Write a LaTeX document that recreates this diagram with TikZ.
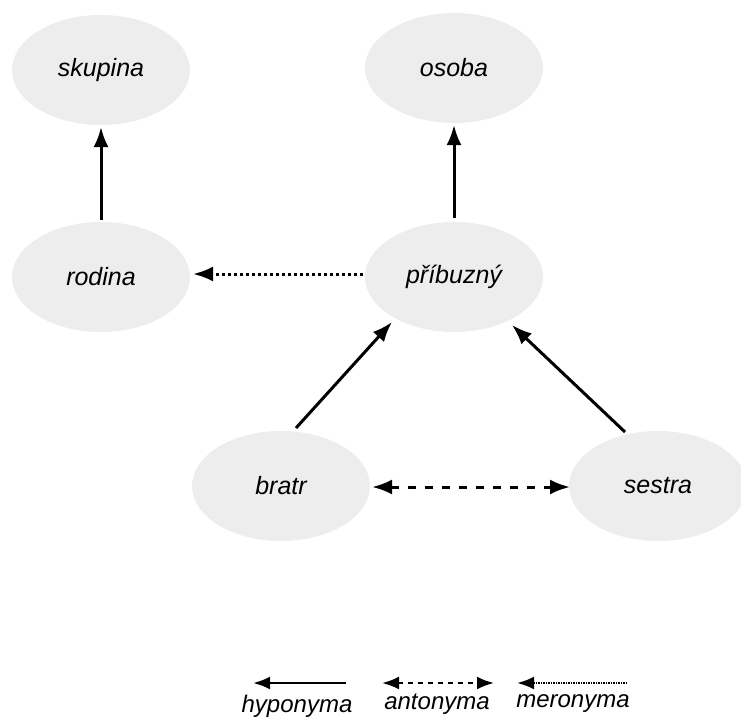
\documentclass[tikz,border=0pt]{standalone}
\usepackage{fontspec}
\setmainfont{Liberation Sans}
\usetikzlibrary{arrows.meta,shapes.geometric}
\tikzset{
  x=1pt,y=-1pt,
  concept/.style={ellipse,fill=black!7,draw=none,minimum width=178pt,minimum height=110pt,inner sep=0pt,font=\fontsize{25}{30}\selectfont\itshape},
  tip/.style={-{Latex[length=20pt,width=15pt]}},
  hypo/.style={tip,line width=3pt},
  mero/.style={tip,line width=3pt,dash pattern=on 3pt off 3pt},
  anto/.style={{Latex[length=20pt,width=15pt]}-{Latex[length=20pt,width=15pt]},line width=3pt,dash pattern=on 8pt off 9pt},
  smalltip/.style={-{Latex[length=17pt,width=13pt]}},
  legtext/.style={font=\fontsize{24}{28}\selectfont\itshape,inner sep=0pt}
}
\begin{document}
\begin{tikzpicture}
\useasboundingbox (0,0) rectangle (741,716);
\begin{scope}
\clip (0,0) rectangle (741,716);
\node[concept] (skupina) at (101,70) {skupina};
\node[concept] (osoba) at (454,68) {osoba};
\node[concept] (rodina) at (101,277) {rodina};
\node[concept] (pribuzny) at (454,277) {příbuzný};
\node[concept] (bratr) at (281,486) {bratr};
\node[concept] (sestra) at (658,486) {sestra};
\end{scope}
\draw[hypo] (101,220) -- (101,127);
\draw[hypo] (454,218) -- (454,125);
\draw[mero] (363,274) -- (193,274);
\draw[hypo] (296,428) -- (392,322);
\draw[hypo] (625,432) -- (512,325);
\draw[anto] (372,487) -- (570,487);
% legend
\coordinate (h1) at (346,683); \coordinate (h2) at (253,683);
\coordinate (a1) at (382,683); \coordinate (a2) at (494,683);
\coordinate (m1) at (627,683); \coordinate (m2) at (517,683);
\draw[line width=2.6pt,smalltip] (h1) -- (h2);
\draw[line width=2.4pt,{Latex[length=17pt,width=13pt]}-{Latex[length=17pt,width=13pt]},dash pattern=on 5pt off 5pt] (a1) -- (a2);
\draw[line width=2.4pt,smalltip,dash pattern=on 1.5pt off 1pt] (m1) -- (m2);
\node[legtext] (lh) at (297,706) {hyponyma};
\node[legtext] (la) at (437,704) {antonyma};
\node[legtext] (lm) at (573,704) {meronyma};
\end{tikzpicture}
\end{document}
